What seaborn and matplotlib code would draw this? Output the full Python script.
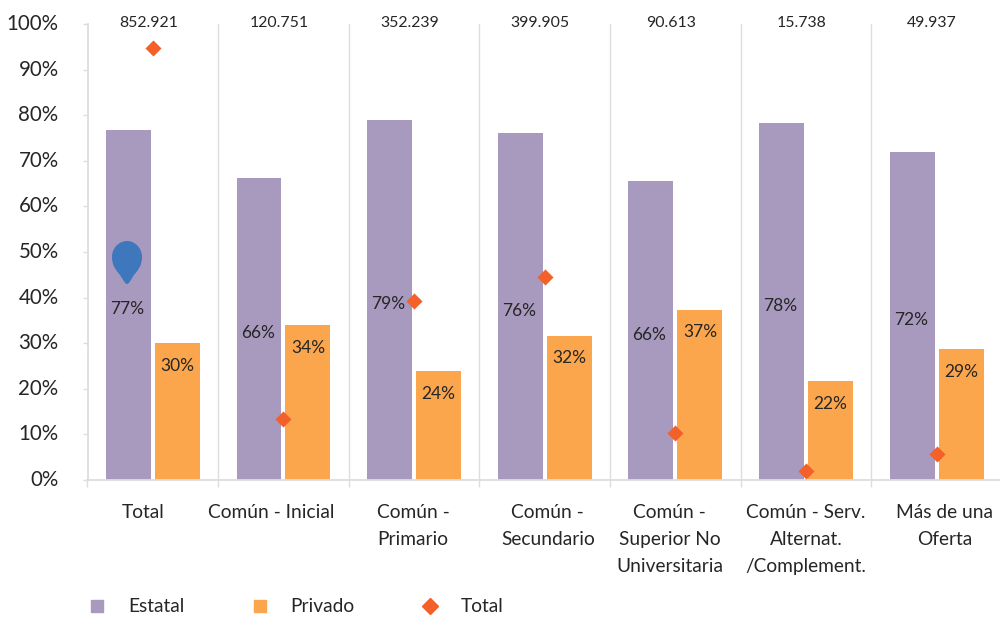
import matplotlib
matplotlib.use("Agg")
import matplotlib.pyplot as plt
import matplotlib.transforms as mtrans
from matplotlib.lines import Line2D
from matplotlib.path import Path
from matplotlib.patches import PathPatch
import pandas as pd
import seaborn as sns

categories = ["Total", "Común - Inicial", "Común -\nPrimario", "Común -\nSecundario",
              "Común -\nSuperior No\nUniversitaria", "Común - Serv.\nAlternat.\n/Complement.",
              "Más de una\nOferta"]
estatal = [76.7, 66.2, 79.0, 76.1, 65.6, 78.3, 71.9]
privado = [30.0, 34.0, 23.9, 31.6, 37.3, 21.7, 28.7]
total = [94.8, 13.4, 39.2, 44.5, 10.2, 1.9, 5.6]
top_labels = ["852.921", "120.751", "352.239", "399.905", "90.613", "15.738", "49.937"]
label_shift_px = [-10, -12, -1, 3, -6, 0, 8]
yticks = list(range(0, 101, 10))

PURPLE, ORANGE, RED, BLUE = "#A899BF", "#FBA64C", "#F4602A", "#3E77BC"
TEXT, GRID = "#262626", "#DDDDDD"

sns.set_theme(style="white")
plt.rcParams["font.family"] = ["Lato", "DejaVu Sans"]

W, H = 1000, 617
fig = plt.figure(figsize=(W / 100, H / 100), dpi=100)
ax = fig.add_axes([87.5 / W, (H - 480) / H, 914.5 / W, 456 / H])

df = pd.DataFrame({
    "cat": categories * 2,
    "val": estatal + privado,
    "tipo": ["Estatal"] * 7 + ["Privado"] * 7,
})
sns.barplot(data=df, x="cat", y="val", hue="tipo", order=categories, hue_order=["Estatal", "Privado"],
            palette=[PURPLE, ORANGE], width=0.75, gap=0.083, legend=False, ax=ax, zorder=2,
            linewidth=0, saturation=1)
sns.stripplot(x=categories, y=total, order=categories, jitter=False, marker="D", size=8.2,
              color=RED, linewidth=0, ax=ax, zorder=4)

ax.set_xlim(-0.5, 6.5)
ax.set_ylim(0, 100)
ax.set_xlabel("")
ax.set_ylabel("")
ax.set_yticks(yticks)
ax.set_yticklabels([f"{v}%" for v in yticks], fontsize=14.8, color=TEXT)
ax.tick_params(axis="y", length=3.8, width=1, color=GRID, pad=17, left=True)
for lab in ax.get_yticklabels():
    lab.set_transform(lab.get_transform() + mtrans.ScaledTranslation(0, 2 / 100, fig.dpi_scale_trans))

# category boundaries: minor ticks and gridlines
ax.set_xticks([i - 0.5 for i in range(8)], minor=True)
ax.tick_params(axis="x", which="minor", length=5, width=1, color=GRID, bottom=True)
ax.tick_params(axis="x", which="major", length=0, pad=17.5)
ax.grid(True, axis="x", which="minor", color=GRID, lw=1, zorder=1)
ax.grid(False, axis="y")
ax.set_axisbelow(True)

ax.set_xticks(range(7))
ax.set_xticklabels(categories, fontsize=13.8, color=TEXT, linespacing=1.72)
for lab, dx in zip(ax.get_xticklabels(), label_shift_px):
    lab.set_transform(lab.get_transform() + mtrans.ScaledTranslation(dx / 100, 0, fig.dpi_scale_trans))
    lab.set_multialignment("center")

for s in ["top", "right"]:
    ax.spines[s].set_visible(False)
for s in ["left", "bottom"]:
    ax.spines[s].set_color(GRID)
    ax.spines[s].set_linewidth(1.3)

bars = [c for c in ax.containers]
center_labels = ax.bar_label(bars[0], fmt="%.0f%%", label_type="center", fontsize=12.5, color=TEXT, zorder=5)
for t in center_labels:
    t.xyann = (-1, -3)
ax.bar_label(bars[1], fmt="%.0f%%", label_type="edge", padding=-22, fontsize=12.5, color=TEXT, zorder=5)

for i, t in enumerate(top_labels):
    ax.text(i - 0.035, 100.2, t, ha="center", va="center", fontsize=11.4, color=TEXT, clip_on=False)

# blue pin overlay from the source image
to_fig = mtrans.Affine2D().scale(1, -1).translate(0, H) + mtrans.Affine2D().scale(fig.dpi / 100)
pin = Path(
    [(127, 284), (125, 284), (124, 281), (120, 275), (116, 270), (112, 266), (112, 257),
     (112, 248), (119, 241), (127, 241), (135, 241), (142, 248), (142, 257),
     (142, 266), (138, 270), (134, 275), (130, 281), (129, 284), (127, 284)],
    [Path.MOVETO] + [Path.CURVE4] * 18)
fig.add_artist(PathPatch(pin, facecolor=BLUE, edgecolor="none", transform=to_fig, zorder=6))

handles = [
    Line2D([], [], ls="", marker="s", ms=8.6, color=PURPLE, label="Estatal"),
    Line2D([], [], ls="", marker="s", ms=8.6, color=ORANGE, label="Privado"),
    Line2D([], [], ls="", marker="D", ms=8.2, color=RED, label="Total"),
]
fig.legend(handles=handles, ncols=3, loc="center left", bbox_to_anchor=(78 / W, (H - 607) / H),
           frameon=False, fontsize=13.8, labelcolor=TEXT, handlelength=2, handletextpad=0.6,
           columnspacing=2.95, borderpad=0, borderaxespad=0)

fig.savefig("out.png", dpi=100, facecolor="white")
